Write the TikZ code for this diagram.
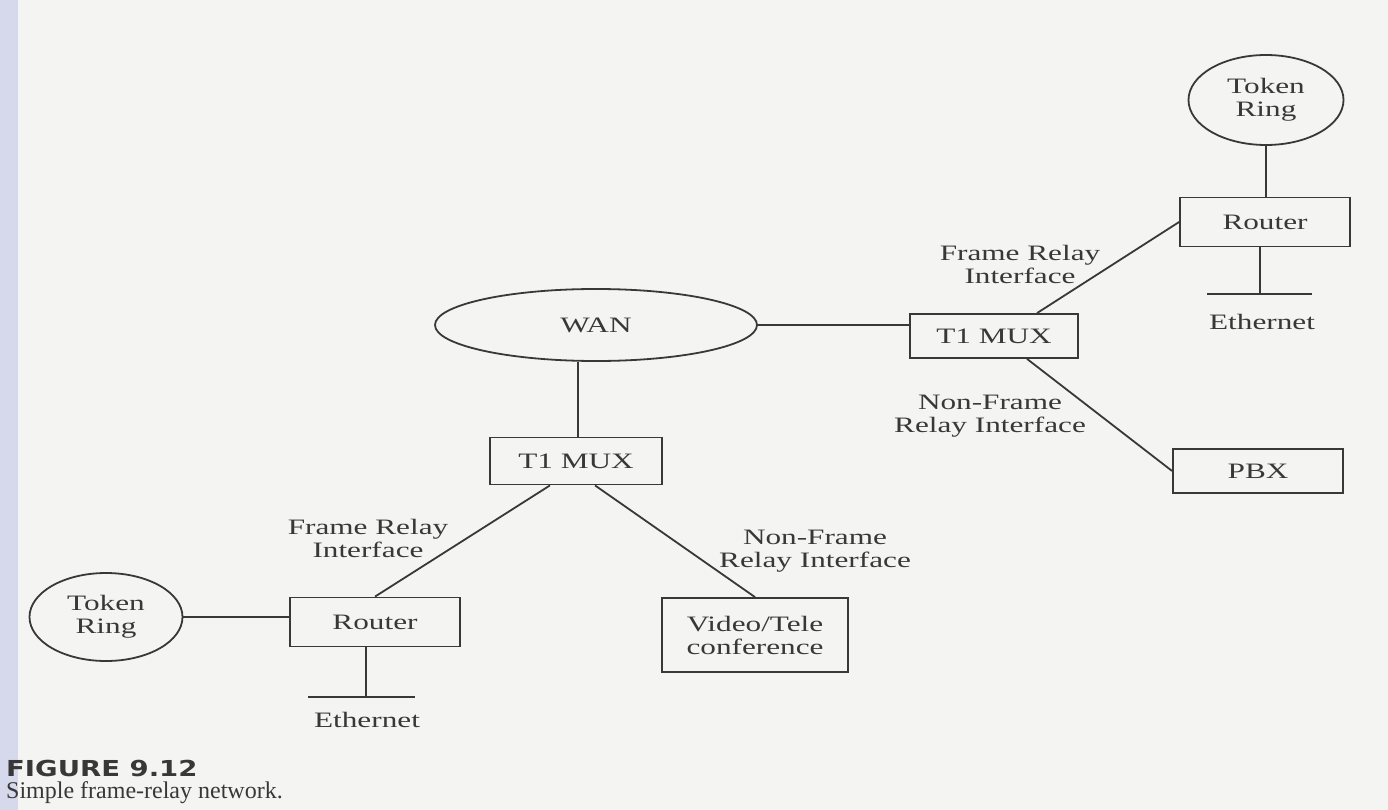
\documentclass[tikz,border=0pt]{standalone}
\usepackage{fontspec}
\setmainfont{Liberation Serif}
\newfontfamily\lblfont[FakeStretch=1.42]{Liberation Serif}
\newfontfamily\capsans[FakeStretch=1.25]{DejaVu Sans}
\usetikzlibrary{shapes.geometric,calc}
\definecolor{ink}{HTML}{383838}
\definecolor{paper}{HTML}{F4F4F3}
\definecolor{strip}{HTML}{D6D9EC}

\begin{document}
\begin{tikzpicture}[x=1pt,y=-1pt,
  every node/.style={text=ink, font=\lblfont\fontsize{22}{23}\selectfont,
                     inner sep=0pt, align=center},
  box/.style={draw=ink, line width=1.8pt, rectangle},
  ring/.style={draw=ink, line width=1.8pt, ellipse},
  link/.style={draw=ink, line width=1.8pt}]

% page and binding edge
\fill[paper] (0,0) rectangle (1388,810);
\fill[strip] (0,0) rectangle (18,810);
\useasboundingbox (0,0) rectangle (1388,810);

% devices and networks
\node[ring, minimum width=155pt, minimum height=90pt] (tr1) at (1266,100) {Token\\Ring};
\node[box, minimum width=170pt, minimum height=49pt] (r1) at (1265,222) {Router};
\node[box, minimum width=168pt, minimum height=44pt] (m2) at (994,336) {T1 MUX};
\node[ring, minimum width=322pt, minimum height=72pt] (wan) at (596,325) {WAN};
\node[box, minimum width=172pt, minimum height=47pt] (m1) at (576,461) {T1 MUX};
\node[box, minimum width=170pt, minimum height=44pt] (pbx) at (1258,471) {PBX};
\node[box, minimum width=170pt, minimum height=49pt] (r2) at (375,622) {Router};
\node[ring, minimum width=153pt, minimum height=88pt] (tr2) at (106,617) {Token\\Ring};
\node[box, minimum width=186pt, minimum height=74pt] (vid) at (755,635) {Video/Tele\\conference};

% Ethernet segments
\coordinate (e1a) at (1207,294);
\coordinate (e1b) at (1312,294);
\node (eth1) at (1262,322) {Ethernet};
\coordinate (e2a) at (308,697);
\coordinate (e2b) at (415,697);
\node (eth2) at (367,720) {Ethernet};

% links
\draw[link] (tr1.south) -- (tr1.south |- r1.north);
\draw[link] ([xshift=-5pt]r1.south) -- ([xshift=-5pt]r1.south |- e1a);
\draw[link] (e1a) -- (e1b);
\draw[link] (r1.west) -- ([xshift=43pt]m2.north);
\draw[link] (wan.east) -- (wan.east -| m2.west);
\draw[link] ([xshift=2pt]m1.north) -- ([xshift=2pt]m1.north |- wan.south);
\draw[link] ([xshift=33pt]m2.south) -- (pbx.west);
\draw[link] ([xshift=-26pt]m1.south) -- (r2.north);
\draw[link] ([xshift=19pt]m1.south) -- (vid.north);
\draw[link] (tr2.east) -- (tr2.east -| r2.west);
\draw[link] ([xshift=-9pt]r2.south) -- ([xshift=-9pt]r2.south |- e2a);
\draw[link] (e2a) -- (e2b);

% interface labels
\node (fr1) at (1020,264) {Frame Relay\\Interface};
\node (nf1) at (990,416) {Non-Frame\\Relay Interface};
\node (fr2) at (368,538) {Frame Relay\\Interface};
\node (nf2) at (815,551) {Non-Frame\\Relay Interface};

% caption
\node[anchor=base west, font=\capsans\bfseries\fontsize{22}{24}\selectfont] (fig) at (6,776) {FIGURE 9.12};
\node[anchor=base west, font=\rmfamily\fontsize{24}{26}\selectfont] (cap) at (6,798) {Simple frame-relay network.};
\end{tikzpicture}
\end{document}
